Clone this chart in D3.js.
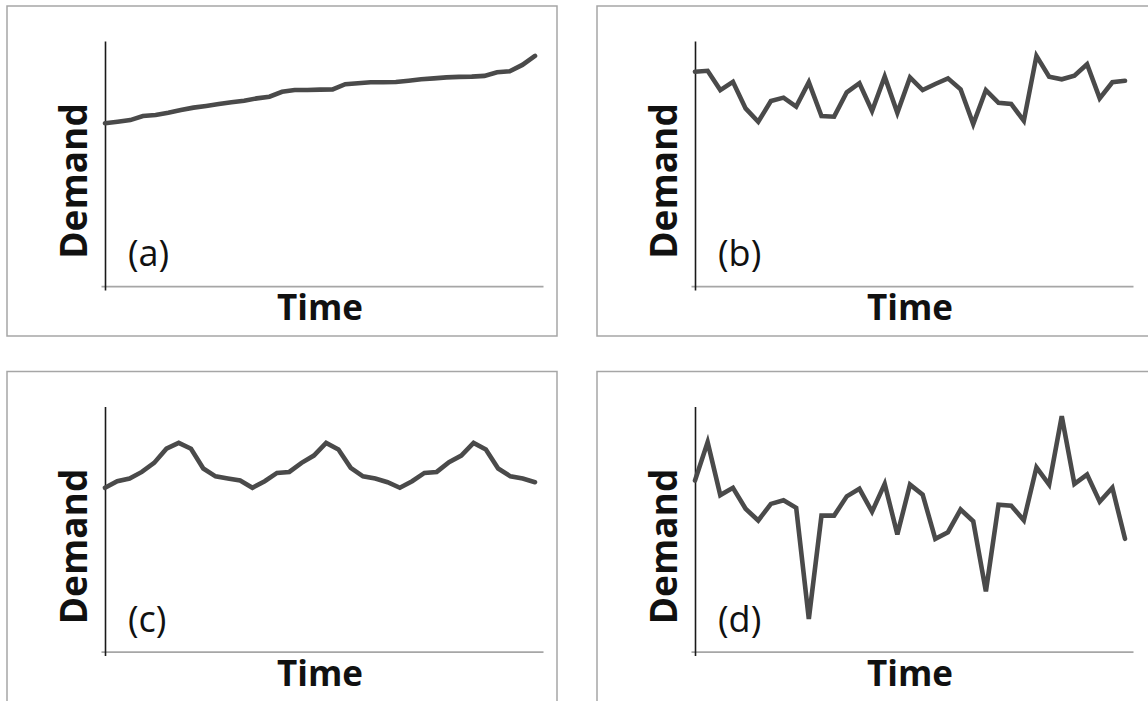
<!DOCTYPE html>
<html>
<head>
<meta charset="utf-8">
<script src="https://cdn.jsdelivr.net/npm/d3@7"></script>
<style>
  body { margin: 0; background: #fff; }
  svg { display: block; }
</style>
</head>
<body>
<script>
// Valeurs (unités arbitraires, 0 = axe du temps)
const trendValues = [66.7, 67.3, 68, 69.7, 70.1, 71, 72.1, 73.1, 73.8, 74.6, 75.3, 75.9, 76.9, 77.6,
  79.6, 80.3, 80.3, 80.5, 80.6, 82.7, 83.1, 83.5, 83.5, 83.6, 84.1, 84.7, 85.1, 85.5, 85.7, 85.8,
  86.1, 87.6, 88, 90.6, 94.3];

const stableValues = [87.8, 88.2, 80.3, 83.7, 72.8, 67.3, 75.8, 77.2, 73.5, 83.5, 69.7, 69.4, 79.4,
  83.1, 71.7, 85.8, 71, 85.5, 80.3, 82.8, 85.1, 80.6, 66.4, 80.3, 75.1, 74.6, 67.7, 94.3, 85.8,
  84.7, 86.2, 90.9, 76.9, 83.5, 84.1];

const seasonalValues = [67.1, 69.8, 70.9, 73.6, 77.3, 83.1, 85.5, 83.1, 75, 71.8, 70.9, 70.1,
  67.1, 69.8, 73.2, 73.6, 77.3, 80.3, 85.5, 82.8, 75.3, 71.8, 70.9, 69.4,
  67.1, 69.8, 73.2, 73.6, 77.6, 80.3, 85.5, 82.8, 75, 71.8, 70.9, 69.4];

const erraticValues = [70.1, 85.8, 64.1, 67.1, 58.5, 53.7, 60.5, 62, 58.9, 13.4, 55.7, 55.7, 63.6,
  66.7, 57.3, 68.7, 48, 68.4, 64.3, 46.2, 48.9, 58.2, 53.4, 24.7, 60.2, 59.8, 53.8, 75.5, 68.4,
  96.4, 68.7, 72.5, 61.4, 67.1, 46.2];

const panelLabels = ['(a)', '(b)', '(c)', '(d)'];
const panelSeries = [trendValues, stableValues, seasonalValues, erraticValues];

const W = 1148, H = 701;
const svg = d3.select('body').append('svg').attr('width', W).attr('height', H);

const origins = [[7, 6], [597, 6], [7, 371.5], [597, 371.5]];

panelSeries.forEach((values, i) => {
  const g = svg.append('g').attr('transform', `translate(${origins[i][0]},${origins[i][1]})`);

  // cadre gris
  g.append('rect')
    .attr('width', i % 2 ? 553 : 550)
    .attr('height', i > 1 ? 332 : 330)
    .attr('fill', 'none')
    .attr('stroke', '#a6a6a6')
    .attr('stroke-width', 1.5);

  const x = d3.scaleLinear().domain([0, values.length - 1]).range([98, 528]);
  const y = d3.scaleLinear().domain([-1.6, 100.4]).range([284, 35]);
  const xFrame = d3.scaleLinear().domain([0, 1]).range([94, 536]);

  // axe du temps (gris)
  g.append('g')
    .attr('transform', `translate(0,${y(0)})`)
    .call(d3.axisBottom(xFrame).ticks(0).tickSizeOuter(0))
    .call(a => a.select('.domain').attr('stroke', '#a6a6a6').attr('stroke-width', 1.6));

  // axe de la demande (noir)
  g.append('g')
    .attr('transform', `translate(${x(0)},0)`)
    .call(d3.axisLeft(y).ticks(0).tickSizeOuter(0))
    .call(a => a.select('.domain').attr('stroke', '#1a1a1a').attr('stroke-width', 1.6));

  // courbe
  g.append('path')
    .datum(values)
    .attr('fill', 'none')
    .attr('stroke', '#4a4a4a')
    .attr('stroke-width', 4.6)
    .attr('stroke-linecap', 'round')
    .attr('stroke-linejoin', 'miter')
    .attr('d', d3.line().x((d, k) => x(k)).y(d => y(d)));

  // titres
  g.append('text')
    .attr('x', 313)
    .attr('y', 314)
    .attr('text-anchor', 'middle')
    .attr('font-family', 'Open Sans, sans-serif')
    .attr('font-weight', 'bold')
    .attr('font-size', 35)
    .attr('fill', '#111')
    .text('Time');

  g.append('text')
    .attr('transform', 'translate(80,175) rotate(-90)')
    .attr('text-anchor', 'middle')
    .attr('font-family', 'Open Sans, sans-serif')
    .attr('font-weight', 'bold')
    .attr('font-size', 37)
    .attr('fill', '#111')
    .text('Demand');

  g.append('text')
    .attr('x', 121)
    .attr('y', 260)
    .attr('font-family', 'Open Sans, sans-serif')
    .attr('font-size', 36)
    .attr('fill', '#111')
    .text(panelLabels[i]);
});
</script>
</body>
</html>
